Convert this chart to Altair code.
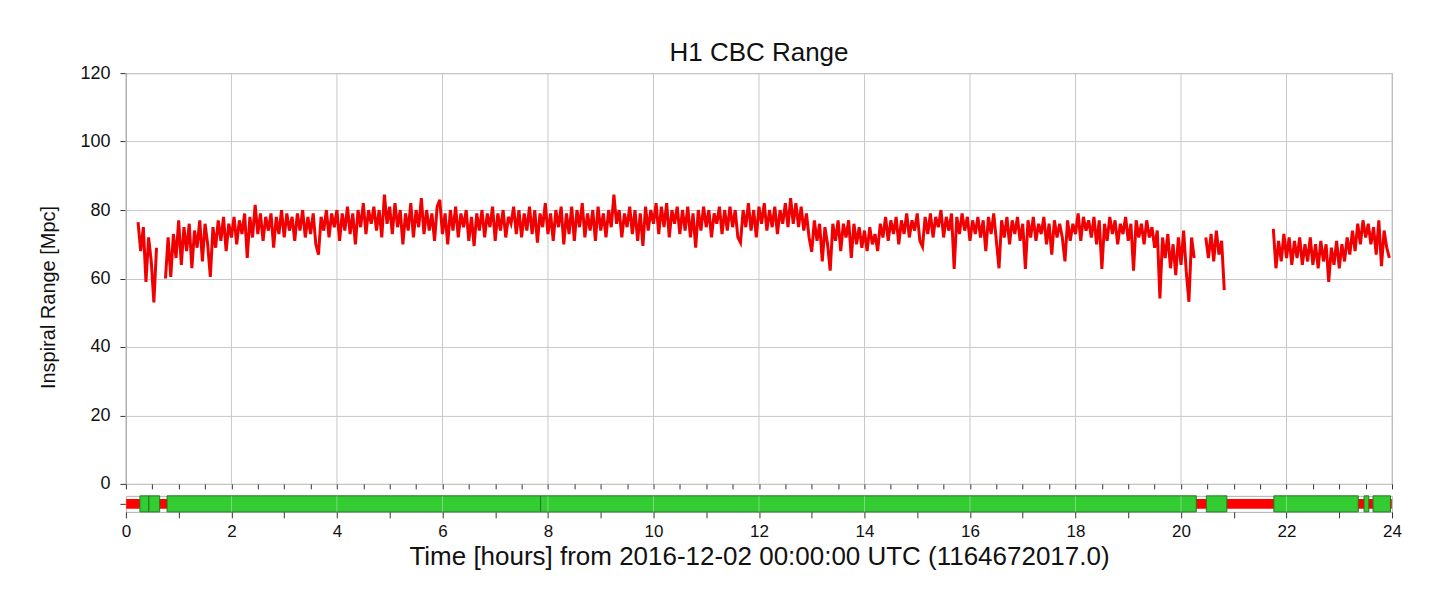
import altair as alt
import numpy as np
import pandas as pd

FONT = "Liberation Sans"
STEP = 0.05  # hours between samples

# ---- H1 CBC range samples (Mpc) ----
seg_a_start = 0.23
seg_a = [76.5, 68, 75, 59, 72, 65, 53, 69]

seg_b_start = 0.75
seg_b = [
    60, 72, 60.5, 73, 66, 77, 64, 75, 68, 76, 63, 74, 69, 77, 65, 76, 70, 60.5, 75, 69,
    77, 71, 78, 68, 76, 72, 78, 70, 77, 73, 79, 66, 78, 72, 81.5, 73, 79, 71, 78, 74,
    79, 69, 78, 73, 80, 72, 79, 74, 78, 71, 79, 74, 80, 72, 78, 73, 79, 70, 67, 78,
    74, 80, 72, 79, 75, 80, 71, 79, 74, 81, 73, 79, 70, 80, 75, 82, 73, 80, 76, 81,
    74, 80, 72, 84.5, 76, 81, 73, 82, 75, 80, 70, 79, 74, 82, 72, 80, 75, 83.5, 73, 80,
    74, 79, 71, 81, 83, 73, 79, 70, 80, 74, 81, 72, 79, 75, 80, 71, 78, 69.5, 79, 74,
    80, 72, 79, 75, 81, 71, 79, 74, 80, 72, 78, 76, 81, 73, 80, 72, 79, 74, 81, 73,
    80, 70.5, 79, 75, 82, 73, 79, 71, 80, 75, 81, 70, 79, 73, 81, 71, 80, 75, 82, 72,
    79, 74, 80, 71, 81, 74, 79, 72, 80, 75, 84.5, 76, 80, 72, 79, 75, 81, 73, 80, 71,
    79, 69.5, 81, 74, 80, 76, 82, 73, 81, 75, 82, 72, 80, 76, 81, 73, 80, 74, 81, 72,
    79, 69, 80, 74, 81, 75, 80, 72, 79, 76, 81, 73, 80, 74, 81, 75, 80, 72, 70.5, 80,
    75, 82, 74, 80, 72, 81, 76, 82, 74, 80, 75, 81, 73, 80, 76, 82, 75, 83.5, 76, 82,
    75, 81, 74, 79, 72, 67.8, 77, 71, 76, 65, 75, 70, 62.3, 76, 71, 77, 68, 76, 72, 77,
    66, 76, 70, 75, 69, 74, 68, 75, 70, 73, 68, 76, 72, 78, 71, 77, 73, 78, 70, 77,
    73, 79, 72, 77, 74, 79, 71, 69.3, 78, 73, 79, 72, 78, 75, 80, 72, 78, 74, 79, 62.8,
    78, 73, 79, 74, 78, 71, 77, 73, 78, 72, 77, 68, 78, 73, 79, 71, 63, 77, 72, 78,
    70, 77, 73, 78, 71, 76, 62.8, 77, 72, 78, 71, 76, 73, 78, 70, 76, 67, 77, 72, 76,
    72, 65, 77, 71, 76, 73, 79, 71, 78, 74, 77, 72, 78, 70, 77, 62.8, 76, 71, 78, 73,
    77, 70, 76, 73, 78, 71, 76, 62.3, 77, 72, 76, 70, 77, 72, 75, 69, 74, 54.2, 72, 66,
    73, 63, 70, 61, 72, 64, 74, 62, 53.2, 72, 66,
]

seg_c_start = 20.47
seg_c = [72, 66, 73, 65, 74, 67, 71, 56.6]

seg_d_start = 21.75
seg_d = [
    74.5, 63, 71, 65, 73, 66, 72, 64, 71, 66, 72, 64, 70, 65, 72, 64, 70, 63, 71, 65,
    70, 59, 69, 64, 71, 63, 70, 65, 72, 67, 74, 68, 76, 70, 77, 72, 76, 70, 75, 67,
    77, 63.6, 74, 69, 66,
]

# ---- segments (hours) ----
known_start = [0.0]
known_end = [24.0]
active_start = [0.265, 0.435, 0.78, 7.86, 20.48, 21.76, 23.47, 23.64]
active_end = [0.435, 0.64, 7.86, 20.29, 20.87, 23.36, 23.56, 23.97]

# ---- axis ticks ----
major_hours = list(range(0, 25, 2))
minor_hours = [h / 2 for h in range(0, 49)]
y_ticks = [0, 20, 40, 60, 80, 100, 120]

rows = []
for sid, (start, vals) in enumerate(
    [(seg_a_start, seg_a), (seg_b_start, seg_b), (seg_c_start, seg_c), (seg_d_start, seg_d)]
):
    for i, v in enumerate(vals):
        rows.append({"t": round(start + i * STEP, 4), "v": v, "seg": sid})
df = pd.DataFrame(rows)

grid_df = pd.DataFrame({"h": major_hours})
known_df = pd.DataFrame({"s": known_start, "e": known_end})
active_df = pd.DataFrame({"s": active_start, "e": active_end})

W = 1267
xscale = alt.Scale(domain=[0, 24], nice=False, zero=False)

top_xaxis = alt.Axis(values=minor_hours, labels=False, tickSize=5, grid=False,
                     title=None, domain=False)
top_yaxis = alt.Axis(values=y_ticks, title="Inspiral Range [Mpc]", grid=True,
                     gridColor="#c8c8c8", tickSize=6, labelPadding=10,
                     titlePadding=21, labelFontSize=18, titleFontSize=20,
                     titleY=224, domainColor="#999999")
yscale = alt.Scale(domain=[0, 120], nice=False)

vgrid = alt.Chart(grid_df).mark_rule(color="#c8c8c8", strokeWidth=1).encode(
    x=alt.X("h:Q", scale=xscale, axis=top_xaxis),
    y=alt.YDatum(0, type="quantitative", scale=yscale, axis=top_yaxis),
    y2=alt.Y2Datum(120),
)

line = alt.Chart(df).mark_line(color="#f00000", strokeWidth=3,
                               strokeJoin="miter").encode(
    x=alt.X("t:Q", scale=xscale, axis=top_xaxis),
    y=alt.Y("v:Q", scale=yscale, axis=top_yaxis),
    detail="seg:N",
)

top = alt.layer(vgrid, line).properties(
    width=W,
    height=411,
    title=alt.TitleParams("H1 CBC Range", fontSize=26, fontWeight="normal",
                          offset=-2, anchor="middle"),
)

yseg = alt.Scale(domain=[0, 1], nice=False, zero=False)
seg_yaxis = alt.Axis(values=[0.5], labels=False, tickSize=6, title=None,
                     grid=False, domain=False)
bot_xaxis = alt.Axis(values=minor_hours, tickSize=6, grid=False, domain=False,
                     labelExpr="datum.value % 2 == 0 ? datum.label : ''",
                     format="d", labelFontSize=17, labelPadding=6,
                     labelFlush=False,
                     title="Time [hours] from 2016-12-02 00:00:00 UTC (1164672017.0)",
                     titleFontSize=26, titlePadding=4)

red = alt.Chart(known_df).mark_rect(color="#ff0000").encode(
    x=alt.X("s:Q", scale=xscale, axis=bot_xaxis),
    x2="e:Q",
    y=alt.YDatum(0.2, type="quantitative", scale=yseg, axis=seg_yaxis),
    y2=alt.Y2Datum(0.8),
)

green = alt.Chart(active_df).mark_rect(color="#33cc33", stroke="#1f7a1f",
                                       strokeWidth=1).encode(
    x=alt.X("s:Q", scale=xscale, axis=bot_xaxis),
    x2="e:Q",
    y=alt.YDatum(0, type="quantitative", scale=yseg, axis=seg_yaxis),
    y2=alt.Y2Datum(1),
)

seg_grid = alt.Chart(grid_df).mark_rule(color="white", strokeWidth=1, opacity=0.35).encode(
    x=alt.X("h:Q", scale=xscale, axis=bot_xaxis),
    y=alt.YDatum(0, type="quantitative", scale=yseg, axis=seg_yaxis),
    y2=alt.Y2Datum(1),
)

bottom = alt.layer(red, green, seg_grid).properties(width=W, height=16)

chart = (
    alt.vconcat(top, bottom, spacing=12, bounds="flush")
    .properties(padding={"left": 30, "top": 31, "right": 20, "bottom": 10},
                background="white")
    .configure(font=FONT)
    .configure_axis(labelFont=FONT, titleFont=FONT, labelColor="#111",
                    titleColor="#111", tickColor="#333", titleFontWeight="normal")
    .configure_title(font=FONT, color="#111")
    .configure_view(stroke="#b0b0b0")
)

chart.save("out.html", embed_options={"renderer": "svg", "actions": False})
